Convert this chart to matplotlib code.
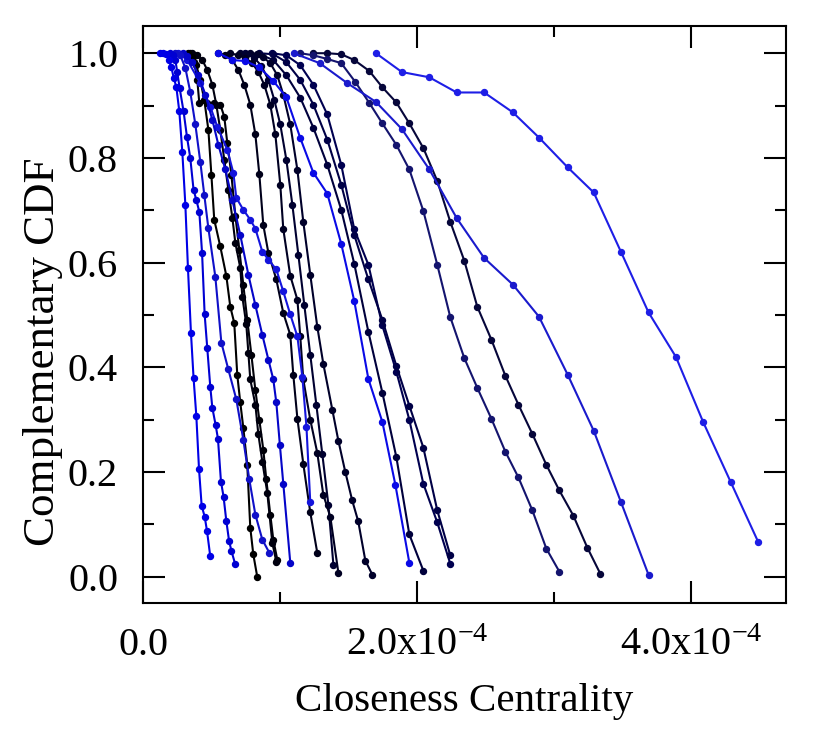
import matplotlib
matplotlib.use("Agg")
import matplotlib.pyplot as plt
import numpy as np
from matplotlib.ticker import MultipleLocator, FixedLocator

plt.rcParams['font.family'] = 'serif'
plt.rcParams['font.serif'] = ['Liberation Serif', 'DejaVu Serif']
plt.rcParams['font.size'] = 29
plt.rcParams['mathtext.fontset'] = 'custom'
plt.rcParams['mathtext.rm'] = 'Liberation Serif'
plt.rcParams['mathtext.it'] = 'Liberation Serif:italic'
plt.rcParams['mathtext.bf'] = 'Liberation Serif:bold'

# closeness centrality in units of 1e-4, and complementary CDF per network
cc_a = [0.126, 0.148, 0.170, 0.188, 0.207, 0.225, 0.243, 0.265, 0.287, 0.309, 0.328, 0.350, 0.369, 0.389, 0.409, 0.428, 0.450, 0.467, 0.491]
cdf_a = [1.000, 1.000, 0.998, 0.987, 0.973, 0.952, 0.936, 0.889, 0.811, 0.711, 0.590, 0.466, 0.380, 0.308, 0.205, 0.136, 0.115, 0.088, 0.039]

cc_b = [0.199, 0.221, 0.236, 0.250, 0.267, 0.296, 0.321, 0.345, 0.369, 0.389, 0.411, 0.431, 0.450, 0.469, 0.491, 0.506, 0.530, 0.547, 0.569, 0.588, 0.608, 0.628, 0.645, 0.672]
cdf_b = [1.000, 0.996, 0.987, 0.964, 0.934, 0.889, 0.840, 0.800, 0.739, 0.720, 0.697, 0.619, 0.501, 0.437, 0.363, 0.323, 0.290, 0.264, 0.182, 0.153, 0.107, 0.069, 0.050, 0.025]

cc_c = [0.236, 0.272, 0.309, 0.345, 0.382, 0.418, 0.447, 0.477, 0.528, 0.572, 0.623, 0.681, 0.732, 0.776, 0.820, 0.871, 0.922]
cdf_c = [1.000, 0.996, 0.972, 0.926, 0.864, 0.793, 0.730, 0.666, 0.573, 0.447, 0.396, 0.339, 0.262, 0.186, 0.119, 0.071, 0.046]

cc_d = [0.331, 0.360, 0.389, 0.418, 0.447, 0.477, 0.499, 0.520, 0.564, 0.608, 0.637, 0.666, 0.688, 0.710, 0.732, 0.761, 0.783, 0.805, 0.834]
cdf_d = [1.000, 0.992, 0.977, 0.949, 0.911, 0.854, 0.768, 0.682, 0.631, 0.575, 0.516, 0.485, 0.386, 0.333, 0.285, 0.214, 0.094, 0.043, 0.000]

cc_e = [0.360, 0.396, 0.433, 0.469, 0.506, 0.535, 0.564, 0.593, 0.623, 0.652, 0.674, 0.710, 0.725, 0.754, 0.769, 0.783, 0.820, 0.842, 0.871, 0.907, 0.944, 0.973]
cdf_e = [1.000, 0.996, 0.987, 0.968, 0.940, 0.902, 0.854, 0.797, 0.739, 0.686, 0.638, 0.590, 0.535, 0.482, 0.428, 0.377, 0.329, 0.272, 0.220, 0.161, 0.065, 0.029]

cc_f = [0.345, 0.374, 0.396, 0.411, 0.469, 0.520, 0.564, 0.593, 0.615, 0.645, 0.674, 0.703, 0.732, 0.761, 0.791, 0.820, 0.849, 0.878, 0.900, 0.929, 0.951, 0.980]
cdf_f = [1.000, 0.983, 0.949, 0.905, 0.905, 0.905, 0.902, 0.879, 0.829, 0.768, 0.690, 0.625, 0.558, 0.491, 0.424, 0.357, 0.300, 0.243, 0.186, 0.119, 0.071, 0.033]

cc_g = [0.294, 0.323, 0.360, 0.404, 0.455, 0.506, 0.550, 0.601, 0.652, 0.710, 0.769, 0.820, 0.871, 0.915, 0.951, 0.973, 0.999, 1.024, 1.075]
cdf_g = [1.000, 0.994, 0.983, 0.958, 0.921, 0.873, 0.825, 0.778, 0.720, 0.653, 0.577, 0.519, 0.462, 0.415, 0.377, 0.333, 0.252, 0.178, 0.027]

cc_t = [0.258, 0.323, 0.418, 0.491, 0.542, 0.615, 0.659, 0.681, 0.732, 0.783, 0.820, 0.871, 0.915, 0.973, 1.024, 1.075, 1.127, 1.163, 1.193, 1.221]
cdf_t = [1.000, 0.987, 0.943, 0.898, 0.860, 0.816, 0.772, 0.724, 0.701, 0.682, 0.665, 0.621, 0.606, 0.587, 0.545, 0.501, 0.459, 0.382, 0.287, 0.142]

cc_h = [0.550, 0.601, 0.652, 0.696, 0.739, 0.783, 0.820, 0.849, 0.878, 0.915, 0.973, 1.024, 1.075, 1.097, 1.127, 1.170, 1.221, 1.272]
cdf_h = [1.000, 0.996, 0.987, 0.968, 0.940, 0.902, 0.845, 0.769, 0.672, 0.619, 0.568, 0.504, 0.462, 0.386, 0.302, 0.216, 0.123, 0.046]

cc_i = [0.637, 0.696, 0.747, 0.798, 0.842, 0.885, 0.929, 0.966, 1.002, 1.024, 1.075, 1.127, 1.148, 1.170, 1.221, 1.272, 1.316, 1.367, 1.426]
cdf_i = [1.000, 0.996, 0.991, 0.981, 0.964, 0.940, 0.902, 0.845, 0.749, 0.664, 0.575, 0.529, 0.459, 0.377, 0.300, 0.237, 0.157, 0.115, 0.008]

cc_j = [0.710, 0.761, 0.812, 0.864, 0.915, 0.958, 1.002, 1.046, 1.090, 1.134, 1.177, 1.221, 1.265, 1.309, 1.353, 1.390]
cdf_j = [1.000, 0.998, 0.991, 0.976, 0.949, 0.911, 0.864, 0.797, 0.711, 0.615, 0.520, 0.424, 0.329, 0.234, 0.138, 0.022]

cc_k = [0.783, 0.834, 0.878, 0.929, 0.980, 1.024, 1.075, 1.127, 1.170, 1.221, 1.272, 1.316, 1.382, 1.426, 1.476, 1.527, 1.571, 1.623, 1.674]
cdf_k = [1.000, 0.998, 0.992, 0.981, 0.958, 0.921, 0.864, 0.777, 0.678, 0.577, 0.478, 0.407, 0.319, 0.260, 0.201, 0.146, 0.106, 0.031, 0.004]

cc_l = [0.550, 0.652, 0.747, 0.849, 0.951, 1.046, 1.148, 1.243, 1.345, 1.447, 1.542, 1.645, 1.747, 1.842, 1.944]
cdf_l = [1.000, 0.987, 0.985, 0.973, 0.947, 0.916, 0.838, 0.772, 0.732, 0.636, 0.527, 0.378, 0.296, 0.176, 0.027]

cc_m = [0.747, 0.849, 0.951, 1.046, 1.148, 1.243, 1.345, 1.447, 1.542, 1.645, 1.747, 1.849, 1.944, 2.046]
cdf_m = [1.000, 0.998, 0.987, 0.958, 0.915, 0.858, 0.787, 0.701, 0.598, 0.468, 0.352, 0.229, 0.081, 0.012]

cc_n = [0.849, 0.951, 1.046, 1.148, 1.243, 1.345, 1.447, 1.542, 1.645, 1.747, 1.849, 1.944, 2.046, 2.148, 2.243]
cdf_n = [1.000, 0.998, 0.983, 0.949, 0.902, 0.835, 0.749, 0.653, 0.568, 0.491, 0.403, 0.327, 0.247, 0.127, 0.041]

cc_o = [0.944, 1.046, 1.148, 1.243, 1.345, 1.447, 1.542, 1.645, 1.747, 1.849, 1.944, 2.046, 2.148, 2.243]
cdf_o = [1.000, 0.996, 0.977, 0.940, 0.883, 0.787, 0.664, 0.596, 0.480, 0.392, 0.300, 0.178, 0.104, 0.025]

cc_p = [1.148, 1.243, 1.345, 1.447, 1.550, 1.652, 1.747, 1.849, 1.944, 2.046, 2.148, 2.243, 2.345, 2.440, 2.543, 2.645, 2.740, 2.842, 2.944, 3.039]
cdf_p = [1.000, 0.996, 0.989, 0.981, 0.945, 0.905, 0.866, 0.825, 0.778, 0.699, 0.596, 0.496, 0.418, 0.361, 0.302, 0.239, 0.190, 0.127, 0.054, 0.010]

cc_q = [1.243, 1.345, 1.447, 1.542, 1.652, 1.747, 1.849, 1.944, 2.046, 2.148, 2.243, 2.345, 2.440, 2.543, 2.645, 2.740, 2.842, 2.944, 3.039, 3.141, 3.243, 3.338]
cdf_q = [1.000, 1.000, 0.998, 0.987, 0.966, 0.935, 0.906, 0.866, 0.819, 0.756, 0.678, 0.604, 0.516, 0.453, 0.384, 0.329, 0.273, 0.214, 0.165, 0.117, 0.056, 0.006]

cc_r = [1.10, 1.29, 1.49, 1.70, 1.89, 2.09, 2.29, 2.49, 2.70, 2.89, 3.10, 3.29, 3.49, 3.69]
cdf_r = [1.000, 0.981, 0.943, 0.907, 0.855, 0.778, 0.685, 0.609, 0.558, 0.497, 0.386, 0.279, 0.142, 0.004]

cc_s = [1.70, 1.89, 2.09, 2.29, 2.49, 2.70, 2.89, 3.10, 3.29, 3.49, 3.69, 3.89, 4.09, 4.29, 4.49]
cdf_s = [1.000, 0.964, 0.954, 0.925, 0.925, 0.887, 0.839, 0.782, 0.734, 0.620, 0.505, 0.420, 0.295, 0.181, 0.067]

series = [
    (cc_q, cdf_q, '#06063a'),
    (cc_p, cdf_p, '#14146e'),
    (cc_o, cdf_o, '#000050'),
    (cc_n, cdf_n, '#000046'),
    (cc_m, cdf_m, '#00003c'),
    (cc_k, cdf_k, '#00002a'),
    (cc_j, cdf_j, '#000030'),
    (cc_i, cdf_i, '#000022'),
    (cc_h, cdf_h, '#00001a'),
    (cc_f, cdf_f, '#000008'),
    (cc_e, cdf_e, '#00000f'),
    (cc_d, cdf_d, '#000000'),
    (cc_r, cdf_r, '#1a1acc'),
    (cc_l, cdf_l, '#0a0ae6'),
    (cc_t, cdf_t, '#1414dc'),
    (cc_g, cdf_g, '#0505c8'),
    (cc_c, cdf_c, '#1010c8'),
    (cc_b, cdf_b, '#0000d2'),
    (cc_a, cdf_a, '#0000e6'),
    (cc_s, cdf_s, '#1e1ee6'),
]

fig = plt.figure(figsize=(8.3, 7.38), dpi=100)
ax = fig.add_axes([0.1723, 0.1829, 0.7741, 0.7819])

for xs, ys, col in series:
    ax.plot(np.array(xs) * 1e-4, ys, '-o', color=col, lw=1.5, ms=4.3)

ax.set_xlim(0, 4.69e-4)
ax.set_ylim(-0.05, 1.052)

ax.set_xticks([0, 2e-4, 4e-4])
ax.set_xticklabels(['0.0', '2.0x10$^{-4}$', '4.0x10$^{-4}$'])
ax.xaxis.set_minor_locator(FixedLocator([1e-4, 3e-4]))
ax.set_yticks([0.0, 0.2, 0.4, 0.6, 0.8, 1.0])
ax.set_yticklabels(['0.0', '0.2', '0.4', '0.6', '0.8', '1.0'])
ax.yaxis.set_minor_locator(MultipleLocator(0.1))

ax.tick_params(which='both', direction='in', top=True, right=True, width=1.5)
ax.tick_params(which='major', length=15.6)
ax.tick_params(which='minor', length=8)
ax.tick_params(axis='x', which='major', pad=17)
ax.tick_params(axis='y', which='major', pad=18)
for s in ax.spines.values():
    s.set_linewidth(1.5)

ax.set_xlabel('Closeness Centrality', fontsize=29.5)
ax.set_ylabel('Complementary CDF', fontsize=32.4)
ax.xaxis.set_label_coords(0.5, -0.139)
ax.yaxis.set_label_coords(-0.125, 0.435)

fig.savefig('out.png', dpi=100)
